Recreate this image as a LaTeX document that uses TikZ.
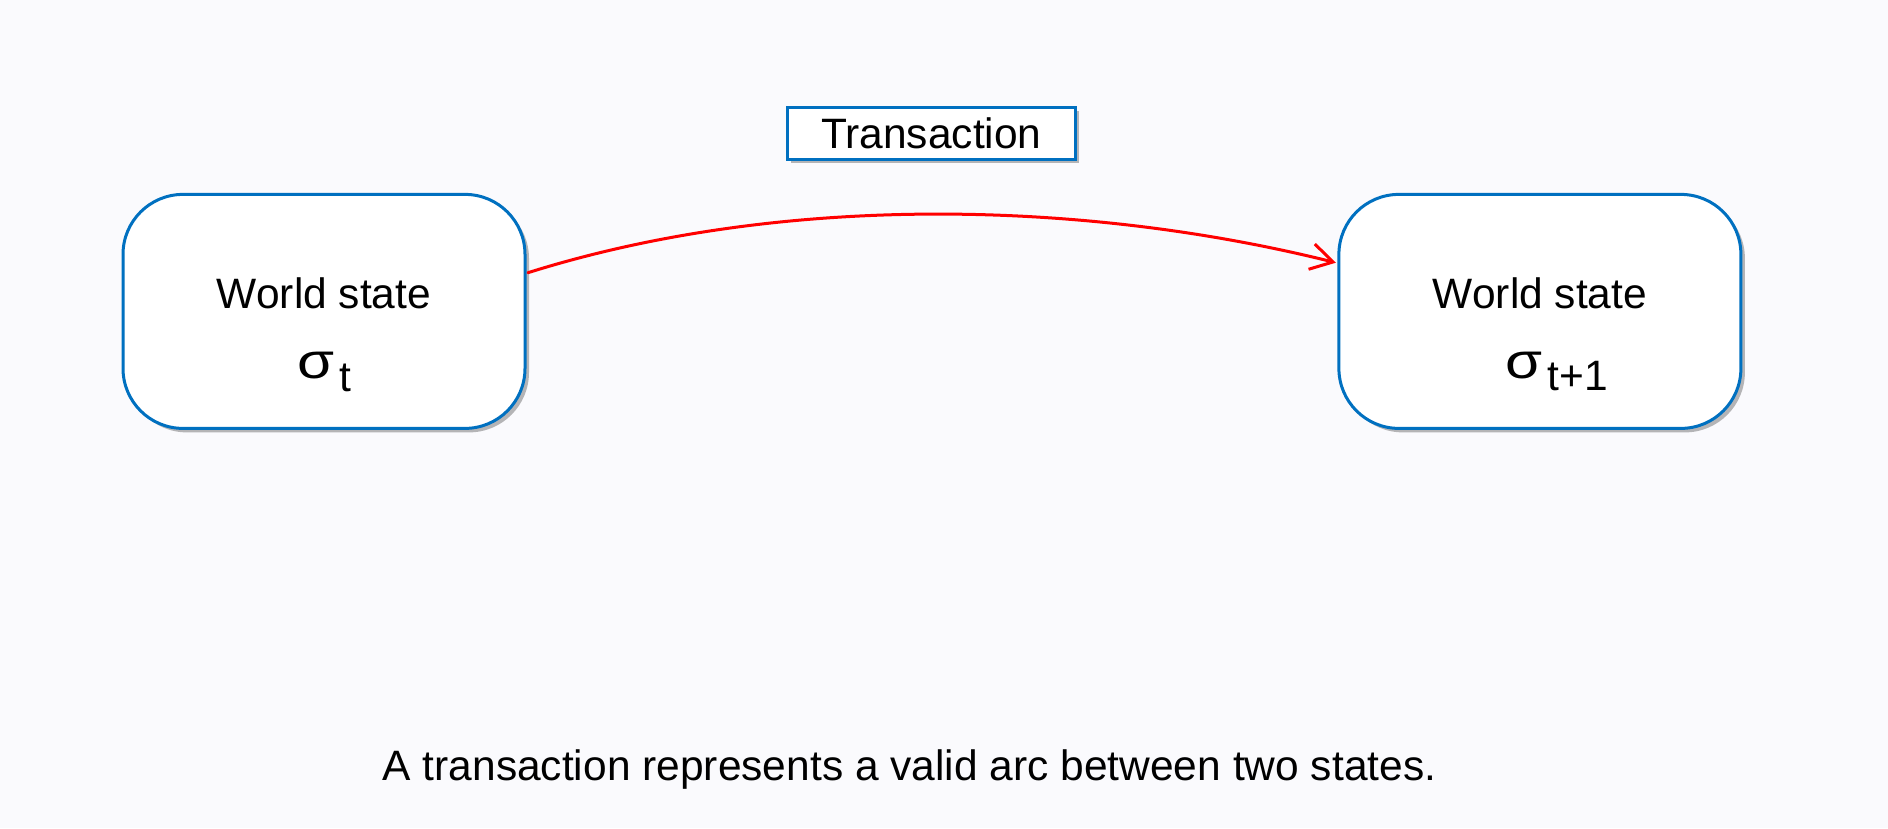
\documentclass[tikz,border=0pt]{standalone}
\usepackage{fontspec}
\setmainfont{Liberation Sans}
\usetikzlibrary{shadows,arrows.meta,calc}
\definecolor{bgc}{RGB}{250,250,253}
\definecolor{boxblue}{RGB}{0,112,192}
\definecolor{arcred}{RGB}{255,0,0}
\tikzset{
  statebox/.style={draw=boxblue, line width=3pt, fill=white, rounded corners=60pt,
    minimum width=402pt, minimum height=234pt, inner sep=0pt,
    drop shadow={shadow xshift=4pt, shadow yshift=-4pt, fill=black, opacity=0.28}},
  labelbox/.style={draw=boxblue, line width=3pt, fill=white,
    minimum width=288pt, minimum height=52pt, inner sep=0pt,
    font=\fontsize{42.5}{50}\selectfont,
    drop shadow={shadow xshift=4pt, shadow yshift=-4pt, fill=black, opacity=0.28}},
  txt/.style={inner sep=0pt, font=\fontsize{42.5}{50}\selectfont},
  sig/.style={inner sep=0pt, font=\fontsize{50}{56}\selectfont},
  arc/.style={draw=arcred, line width=3pt, line cap=round,
    -{Straight Barb[length=22pt, width=26pt, line width=3pt]}}
}
\begin{document}
\begin{tikzpicture}[x=1pt, y=-1pt]
\fill[bgc] (0,0) rectangle (1888,828);
\useasboundingbox (0,0) rectangle (1888,828);
% state boxes
\node[statebox] (s1) at (324,311.4) {};
\node[statebox] (s2) at (1539.9,311.4) {};
% transaction box
\node[labelbox] (tr) at (931.3,133.3) {Transaction};
% texts in boxes
\node[txt, anchor=base] (w1) at (324,308.5) {World state};
\node[sig, anchor=base west] (g1) at (297,378) {\scalebox{1.2}[1]{σ}};
\node[txt, anchor=base west] (t1) at (339.5,391.5) {t};
\node[txt, anchor=base] (w2) at (1540,308.5) {World state};
\node[sig, anchor=base west] (g2) at (1505,378) {\scalebox{1.2}[1]{σ}};
\node[txt, anchor=base west] (t2) at (1547.5,390.7) {t+1};
% arc
\coordinate (p0) at ($(s1.east)+(1.5,-38.7)$);
\coordinate (p3) at ($(s2.west)+(-1.5,-48.7)$);
\draw[arc] (p0) .. controls +(251,-79) and +(-255,-63.6) .. (p3);
% caption
\node[txt, anchor=base] (cap) at (909.5,780) {A transaction represents a valid arc between two states.};
\end{tikzpicture}
\end{document}
